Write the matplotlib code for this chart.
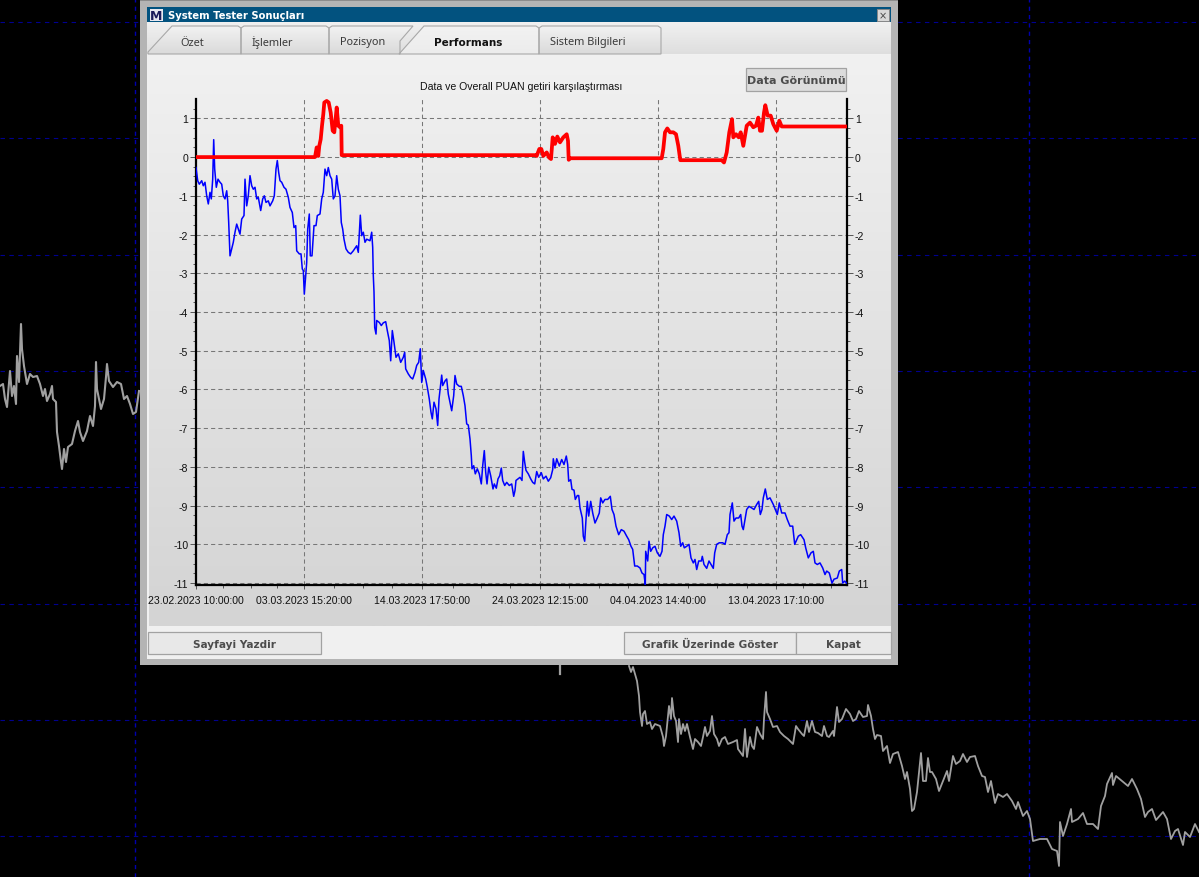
import numpy as np
import matplotlib
matplotlib.use("Agg")
import matplotlib.pyplot as plt
from matplotlib.colors import LinearSegmentedColormap
from matplotlib.patches import Polygon, Rectangle

W, H = 1199, 878

# performance chart, x is bar number
blue_x = [0, 1.7, 3.3, 5.7, 7.3, 9, 10.7, 12.3, 14, 15.3, 16.7, 17.7, 18.7, 20.3, 22, 24, 25.7, 27.3, 29, 30.7, 31.7, 32.7, 34, 35.7, 37.3, 39, 40.7, 42.3, 44, 45.7, 48, 49, 50.7, 52.3, 54, 55.7, 57.3, 59, 60.7, 62.3, 64.7, 66.7, 68.3, 70, 72.3, 74, 76.7, 78.3, 80, 81.3, 82.7, 84, 85.7, 88, 90, 92.3, 94, 96.3, 98, 99.7, 100.7, 103.3, 105, 106.3, 107.3, 108.3, 109.7, 110.7, 111.7, 113.3, 114.3, 116, 118, 120, 121.3, 124, 125.7, 127.3, 129, 130.7, 132.3, 134, 135.7, 137.3, 139, 140.7, 142.3, 144, 145.3, 146.7, 148, 150, 152.3, 154.7, 157.3, 160.7, 162.3, 164.3, 165.7, 167.3, 169, 170.7, 174, 175.7, 176.7, 177.3, 178,
          178.7, 180, 180.7, 183.3, 185.3, 187.3, 189.7, 191.3, 193.3, 194.7, 196.3, 198, 200, 202.3, 204.7, 207.3, 208.7, 209.7, 212.3, 214.7, 216.7, 219, 220.7, 222.7, 224.3, 225.7, 227.3, 229.7, 231.3, 233.3, 235, 236.3, 238, 240, 241.7, 243, 245.7, 246.7, 249.3, 250.7, 252.3, 254, 255.7, 257.7, 259, 260.7, 263.3, 265.3, 267.3, 269, 270.7, 272.3, 274, 275.3, 276, 277.7, 279.3, 281.3, 283.3, 285.3, 286.7, 288.3, 289.7, 291, 292.7, 294.7, 297, 298.3, 300.3, 302, 303.7, 305.3, 306.7, 308.7, 310.7, 313.3, 315.7, 317.7, 319, 320, 322, 324, 326, 327.3, 328.7, 330, 332.3, 334.7, 336.7, 338.7, 340.7, 342.7,
          345.3, 347.3, 350, 352.3, 354.7, 356.7, 357.3, 359, 360.7, 363.3, 365.7, 368, 370.3, 371.7, 372.7, 374.7, 376, 378, 379.3, 381.3, 382.7, 384, 386.3, 387.3, 388.7, 390, 391.3, 392.7, 394.7, 396.7, 399, 401.3, 403.3, 404.7, 406.7, 409, 411.7, 414.3, 416, 418, 420, 422.7, 425.3, 428, 430.7, 432.7, 435, 436.7, 438.7, 441.3, 444, 446, 448, 449.3, 449.7, 451.7, 453, 454.7, 456.7, 459, 461.3, 464, 466, 467.3, 469, 470.7, 473.3, 475.7, 478, 480.7, 483, 484.7, 486.7, 488.3, 490.7, 493, 495, 497.3, 499, 500.7, 502.7, 505.3, 506.3, 508, 510.7, 513, 515, 517.3, 518.7, 520.7, 523.3, 526.7, 529, 531.3, 533, 534, 536.3, 538, 540, 542.7, 544.7, 546, 547.3, 549, 550.7, 553, 555.7, 558, 560.7, 562.7, 564.3, 566, 567.3, 569.3, 571.3, 574, 577.3, 579.3, 581.3, 583.3, 585.7, 589, 591.3, 594, 596.7, 598.7, 600.7, 602.3, 604.7, 608, 609.7, 612.3, 615, 617.3, 619, 621.3, 624, 626.7, 629, 630.7, 633.3, 636, 638, 641.3, 643.3, 645.7, 646.7, 648.7, 650.7]
blue_y = [-0.27, -0.61, -0.70, -0.61, -0.74, -0.65, -1.00, -1.21, -0.91, -1.08, -0.57, 0.45, -0.31, -0.78, -0.57, -0.65, -0.70, -1.00, -1.08, -0.87, -1.13, -1.69, -2.55, -2.37, -2.20, -1.94, -1.73, -1.86, -1.99, -1.60, -1.51, -0.57, -1.26, -1.00, -0.48, -0.74, -0.83, -0.78, -1.08, -1.04, -1.38, -1.08, -1.00, -1.17, -1.13, -1.26, -1.13, -1.00, -0.31, -0.09, -0.40, -0.61, -0.65, -0.78, -0.83, -1.04, -1.30, -1.43, -1.82, -1.77, -2.42, -2.50, -2.50, -2.89, -2.93, -3.54, -3.06, -2.72, -1.86, -1.47, -2.55, -2.55, -1.77, -1.77, -1.51, -1.47, -1.08, -0.91, -0.31, -0.48, -0.27, -0.48, -0.57, -1.08, -1.00, -0.48, -0.83, -1.00, -1.69, -1.86, -2.12, -2.37, -2.46, -2.50, -2.42, -2.29, -2.46, -1.50, -2.03, -1.94, -2.20, -2.12, -2.16, -1.94, -2.33, -3.06, -3.48,
          -4.40, -4.57, -4.22, -4.27, -4.35, -4.28, -4.25, -4.48, -4.74, -5.26, -4.48, -4.78, -5.17, -5.08, -5.30, -5.17, -5.04, -5.47, -5.60, -5.69, -5.73, -5.56, -5.38, -5.30, -4.95, -5.82, -5.51, -5.73, -5.94, -6.25, -6.59, -6.76, -6.33, -6.50, -6.93, -6.25, -5.63, -5.90, -5.77, -5.73, -6.12, -6.33, -6.55, -6.16, -5.64, -5.86, -5.92, -5.92, -6.16, -6.42, -6.89, -6.92, -7.28, -7.71, -8.05, -7.97, -8.18, -8.05, -8.18, -8.44, -7.97, -7.58, -8.14, -8.44, -8.01, -8.23, -8.57, -8.44, -8.55, -8.31, -8.23, -8.03, -8.35, -8.48, -8.40, -8.48, -8.44, -8.76, -8.61, -8.35, -8.31, -8.27, -8.35, -7.60, -7.88, -8.09, -8.18, -8.31, -8.40, -8.44, -8.12, -8.27,
          -8.15, -8.31, -8.24, -8.37, -8.28, -8.07, -7.79, -8.03, -7.79, -7.98, -7.81, -7.94, -7.72, -7.94, -8.37, -8.33, -8.58, -8.60, -8.84, -8.74, -8.74, -9.06, -9.32, -9.79, -9.92, -9.36, -8.89, -9.27, -8.89, -9.19, -9.45, -9.32, -9.19, -8.80, -8.93, -8.84, -8.84, -8.76, -9.10, -9.23, -9.53, -9.75, -9.62, -9.66, -9.79, -9.88, -10.05, -10.13, -10.56, -10.56, -10.61, -10.74, -10.78, -11.04, -10.18, -10.43, -9.92, -10.18, -10.09, -10.05, -10.22, -10.31, -10.18, -9.75, -9.53, -9.23, -9.27, -9.36, -9.27, -9.40, -9.70, -10.05, -9.96, -10.09, -10.05, -10.00, -10.35, -10.48, -10.39, -10.65, -10.43, -10.43, -10.31, -10.52, -10.62, -10.43, -10.52, -10.62, -10.22, -10.00, -9.96, -9.96, -10.00, -9.75, -9.70, -9.23, -8.93, -9.40, -9.32, -9.32, -9.23, -9.53, -9.62, -9.36, -9.10, -9.02, -9.06, -9.10, -8.97, -8.89, -9.23, -9.10, -8.80, -8.57, -8.84, -8.80, -8.97, -9.10, -9.23, -8.93, -9.19, -9.19, -9.36, -9.53, -9.53, -10.00, -9.88, -9.79, -9.75, -9.88, -10.09, -10.35, -10.22, -10.18, -10.48, -10.52, -10.48, -10.61, -10.78, -10.69, -10.74, -11.00, -10.90, -10.87, -10.69, -10.65, -11.00, -10.95, -11.00]

red_x = [0, 119, 120.7, 122.3, 123.3, 124.7, 126, 127.3, 128.3, 130.7, 132.7, 134.7, 136.7, 138.3, 140.7, 142.3, 144, 145.3, 145.7, 339, 340.7, 343.3, 345.3, 347.3, 350.7, 353, 355, 356.7, 359, 361.3, 364, 367.3, 370.7, 372, 372.7, 374, 465.7, 467.3, 469, 471.3, 474, 477.3, 480, 482.3, 484.3, 525.7, 528, 530.7, 533.3, 536, 537.3, 540, 542.7, 544.7, 547.3, 550.7, 554, 557.3, 560, 562.3, 564, 566, 568, 569.3, 571.7, 574.7, 577.3, 580.7, 583.3, 585.7, 651]
red_y = [0, 0, 0.25, 0.03, 0.29, 0.46, 0.81, 1.11, 1.41, 1.45, 1.41, 1.15, 0.68, 0.64, 1.28, 0.81, 0.77, 0.81, 0.05, 0.05, 0.03, 0.21, 0.21, 0.03, 0.12, -0.01, -0.05, 0.51, 0.34, 0.53, 0.38, 0.51, 0.59, 0.42, -0.07, -0.03, -0.03, 0.21, 0.64, 0.74, 0.64, 0.64, 0.59, 0.29, -0.08, -0.08, -0.14, 0.12, 0.64, 0.98, 0.51, 0.59, 0.51, 0.64, 0.29, 0.81, 0.89, 0.77, 0.81, 1.02, 0.68, 0.68, 1.15, 1.34, 1.07, 1.07, 0.85, 0.68, 0.94, 0.79, 0.79]

y_ticks = list(range(-11, 2))
x_major = [0, 108, 226, 344, 462, 580]
x_minor = [27, 55, 81, 138, 167, 196, 257, 285, 314, 373, 403, 432, 492, 521, 551, 607, 635]
x_labels = ["23.02.2023 10:00:00", "03.03.2023 15:20:00", "14.03.2023 17:50:00",
            "24.03.2023 12:15:00", "04.04.2023 14:40:00", "13.04.2023 17:10:00"]

# price chart behind the window
price_left_x = [0, 3, 5, 7, 10, 12, 14, 16, 17, 19, 21, 22, 24, 27, 30, 33, 37, 40, 43, 45, 47, 50, 52, 53, 56, 57, 59, 61, 62, 64, 66, 68, 72, 75, 78, 80, 83, 87, 90, 93, 95, 96, 97, 99, 101, 104, 106, 107, 109, 113, 117, 121, 124, 127, 130, 133, 136, 139]
price_left_y = [387, 385, 400, 408, 372, 397, 387, 405, 357, 383, 325, 350, 367, 385, 375, 378, 377, 385, 397, 390, 402, 395, 387, 400, 403, 433, 447, 463, 470, 450, 463, 448, 445, 432, 422, 433, 442, 432, 417, 427, 407, 363, 390, 400, 410, 400, 378, 365, 382, 388, 383, 385, 400, 397, 405, 415, 413, 392]
price_stub_x = [560, 560]
price_stub_y = [667, 675]
price_right_x = [629, 631, 633, 635, 637, 639, 640, 642, 643, 645, 647, 650, 652, 655, 660, 663, 664, 666, 667, 669, 671, 672, 674, 676, 678, 679, 681, 683, 685, 687, 690, 693, 695, 698, 701, 703, 705, 707, 710, 712, 714, 717, 719, 722, 725, 728, 733, 737, 738, 743, 745, 747, 750, 752, 754, 757, 760, 763, 764, 766, 767, 770, 773, 777, 780, 784, 788, 793, 796, 798, 802, 804, 807, 809, 812, 815, 818, 822, 824, 827, 829, 833, 834, 837, 839, 842, 846, 850, 853, 856, 859, 863, 867, 868, 871, 873, 875, 877, 881, 883, 887, 890, 893, 898, 902, 905, 907, 910, 912, 914, 917, 919, 921, 923, 926, 928, 930, 932, 936, 939, 943, 947, 949, 953, 956, 960, 963, 967, 970, 975, 978, 982, 985, 988, 991, 995, 998, 1003, 1007, 1012, 1016, 1018, 1023, 1027, 1030, 1033, 1040, 1047, 1052, 1057, 1059, 1060, 1063, 1067, 1071, 1072, 1078, 1083, 1087, 1093, 1098, 1101, 1105, 1107, 1112, 1113, 1116, 1122, 1128, 1132, 1137, 1141, 1145, 1148, 1152, 1156, 1163, 1167, 1171, 1175, 1178, 1183, 1185, 1190, 1195, 1199]
price_right_y = [667, 673, 668, 675, 682, 697, 713, 727, 715, 712, 725, 723, 730, 725, 727, 738, 747, 737, 727, 707, 720, 699, 717, 722, 743, 720, 735, 725, 732, 725, 738, 750, 740, 743, 747, 738, 728, 737, 732, 717, 735, 740, 747, 740, 738, 745, 743, 741, 750, 757, 730, 758, 738, 747, 750, 728, 735, 740, 720, 693, 713, 720, 728, 727, 733, 737, 740, 745, 727, 730, 735, 737, 722, 733, 722, 733, 734, 737, 727, 737, 738, 732, 737, 708, 723, 720, 710, 715, 722, 720, 712, 718, 717, 706, 717, 730, 740, 736, 737, 752, 747, 764, 755, 753, 767, 780, 773, 790, 812, 810, 793, 773, 754, 782, 782, 759, 773, 773, 780, 792, 782, 772, 782, 757, 765, 762, 755, 763, 758, 757, 767, 777, 778, 793, 782, 804, 795, 798, 795, 802, 810, 803, 817, 812, 820, 842, 840, 840, 850, 852, 867, 823, 837, 825, 810, 823, 820, 814, 825, 825, 830, 807, 797, 785, 774, 786, 777, 782, 787, 780, 790, 800, 818, 813, 810, 821, 813, 820, 840, 832, 830, 846, 833, 838, 825, 833]
bg_hlines = [23.2, 139.2, 256.2, 372.2, 488.2, 605.2, 721.2, 837.2]
bg_vlines = [135, 1029]

UI = "DejaVu Sans"
TAB = "Noto Sans"
CHART = "Liberation Sans"

fig = plt.figure(figsize=(W / 100, H / 100), dpi=100, facecolor="black")
bg = fig.add_axes([0, 0, 1, 1])
bg.set_xlim(0, W)
bg.set_ylim(H, 0)
bg.axis("off")


def box(x0, y0, x1, y1, color, edge=None, lw=0, z=5):
    bg.add_patch(Rectangle((x0, y0), x1 - x0, y1 - y0, facecolor=color, edgecolor=edge or color, linewidth=lw, zorder=z))


def gradient(x0, y0, x1, y1, top, bottom, z=6, clip=None):
    cmap = LinearSegmentedColormap.from_list("g", [top, bottom])
    im = bg.imshow(np.linspace(0, 1, 256).reshape(-1, 1), extent=[x0, x1, y1, y0], aspect="auto", cmap=cmap, zorder=z)
    if clip is not None:
        im.set_clip_path(clip)
    bg.set_xlim(0, W)
    bg.set_ylim(H, 0)


def tab(points, text, cx, bold=False):
    poly = Polygon(points, closed=True, facecolor="none", edgecolor="#a8a8a8", linewidth=0.8, zorder=8)
    bg.add_patch(poly)
    xs = [p[0] for p in points]
    gradient(min(xs), 27, max(xs), 55, "#f2f2f2", "#ececec" if bold else "#dadada", z=7, clip=poly)
    if bold:
        bg.text(cx, 43, text, ha="center", va="center", fontsize=7.5, family=UI, color="#111111", fontweight="bold", zorder=9)
    else:
        bg.text(cx, 43, text, ha="center", va="center", fontsize=7.9, family=TAB, color="#3a3a3a", zorder=9)


def button(x0, y0, x1, y1, text, color="#e8e8e8", size=7.6):
    box(x0, y0, x1, y1, color, "#a2a2a2", 0.9, z=8)
    bg.text((x0 + x1) / 2, (y0 + y1) / 2 + 1, text, ha="center", va="center", fontsize=size, family=UI,
            fontweight="bold", color="#4c4c4c", zorder=9)


# backdrop
for y in bg_hlines:
    bg.axhline(y, color="#000090", lw=0.8, ls=(0, (4, 4)), zorder=1)
for x in bg_vlines:
    bg.axvline(x, color="#0000b0", lw=1.0, ls=(0, (3, 3)), zorder=1)
bg.plot(price_left_x, price_left_y, color="#a0a0a0", lw=1.5, zorder=2)
bg.plot(price_stub_x, price_stub_y, color="#a0a0a0", lw=1.6, zorder=2)
bg.plot(price_right_x, price_right_y, color="#a0a0a0", lw=1.3, zorder=2)

# window
box(140, 0, 898, 666, "#b4b4b4", z=4)
box(140, 0, 898, 2, "#8c8c8c", z=4)
box(147, 23, 891, 660, "#f0f0f0")
box(147, 8, 891, 23, "#02527f")
box(150, 10, 163, 22, "#e8e8f0", z=6)
bg.text(156.5, 16.5, "M", ha="center", va="center", fontsize=9, fontweight="bold", family=UI, color="#1a1a5a", zorder=7)
bg.text(168, 16, "System Tester Sonuçları", ha="left", va="center", fontsize=7.2, fontweight="bold", family=UI,
        color="white", zorder=7)
box(877, 10, 889, 22, "#d8d8d8", "#888888", 0.7, z=6)
bg.text(883, 16, "×", ha="center", va="center", fontsize=7, family=UI, color="#444444", zorder=7)

gradient(147, 24, 891, 55, "#f0f0f0", "#dedede")
gradient(149, 55, 891, 627, "#f1f1f1", "#d4d4d4")

tab([(148, 53), (172, 27), (238, 27), (241, 29), (241, 55), (148, 55)], "Özet", 192)
tab([(241, 29), (244, 27), (326, 27), (329, 29), (329, 55), (241, 55)], "İşlemler", 272.5)
tab([(329, 29), (332, 27), (413, 27), (400, 42), (400, 55), (329, 55)], "Pozisyon", 362.5)
tab([(399, 55), (424, 27), (536, 27), (539, 29), (539, 55)], "Performans", 468, bold=True)
tab([(539, 29), (542, 27), (658, 27), (661, 29), (661, 55), (539, 55)], "Sistem Bilgileri", 588)

button(746, 69, 846, 92, "Data Görünümü", color="#dcdcdc", size=8.0)
button(148, 633, 321, 655, "Sayfayi Yazdir")
button(624, 633, 796, 655, "Grafik Üzerinde Göster")
button(796, 633, 891, 655, "Kapat")

bg.text(521, 87, "Data ve Overall PUAN getiri karşılaştırması", ha="center", va="center", fontsize=7.6,
        family=CHART, color="#111111", zorder=9)

# chart
ax = fig.add_axes([196 / W, 1 - 586 / H, 651 / W, 486 / H], zorder=3)
ax.patch.set_alpha(0)
ax.plot(blue_x, blue_y, color="#0000ff", lw=1.1, zorder=3)
ax.plot(red_x, red_y, color="#ff0000", lw=2.7, zorder=4)
ax.set_xlim(0, 651)
ax.set_ylim(-11.05, 1.5)

ax.set_yticks(y_ticks)
ax.set_yticklabels([str(v) for v in y_ticks], family=CHART, fontsize=7.6, color="#111111")
ax.set_yticks(np.arange(-11, 1.5, 0.25), minor=True)
ax.set_xticks(x_major)
ax.set_xticklabels(x_labels, family=CHART, fontsize=7.6, color="#111111")
ax.set_xticks(x_minor, minor=True)

ax.tick_params(axis="y", which="major", length=4.3, width=0.7, color="#555555", left=True, right=True, labelright=True, pad=1.3)
ax.tick_params(axis="y", which="minor", length=2.2, width=0.7, color="#555555", left=True, right=True)
ax.tick_params(axis="x", which="major", length=3, width=0.7, color="#555555", pad=4.5)
ax.tick_params(axis="x", which="minor", length=2, width=0.7, color="#555555")

ax.grid(True, which="major", color="#777777", lw=0.75, ls=(0, (4, 3)))
ax.set_axisbelow(True)
ax.spines["top"].set_visible(False)
for side in ["left", "right", "bottom"]:
    ax.spines[side].set_linewidth(1.6)
    ax.spines[side].set_color("black")

fig.savefig("out.png", dpi=100, facecolor="black")
